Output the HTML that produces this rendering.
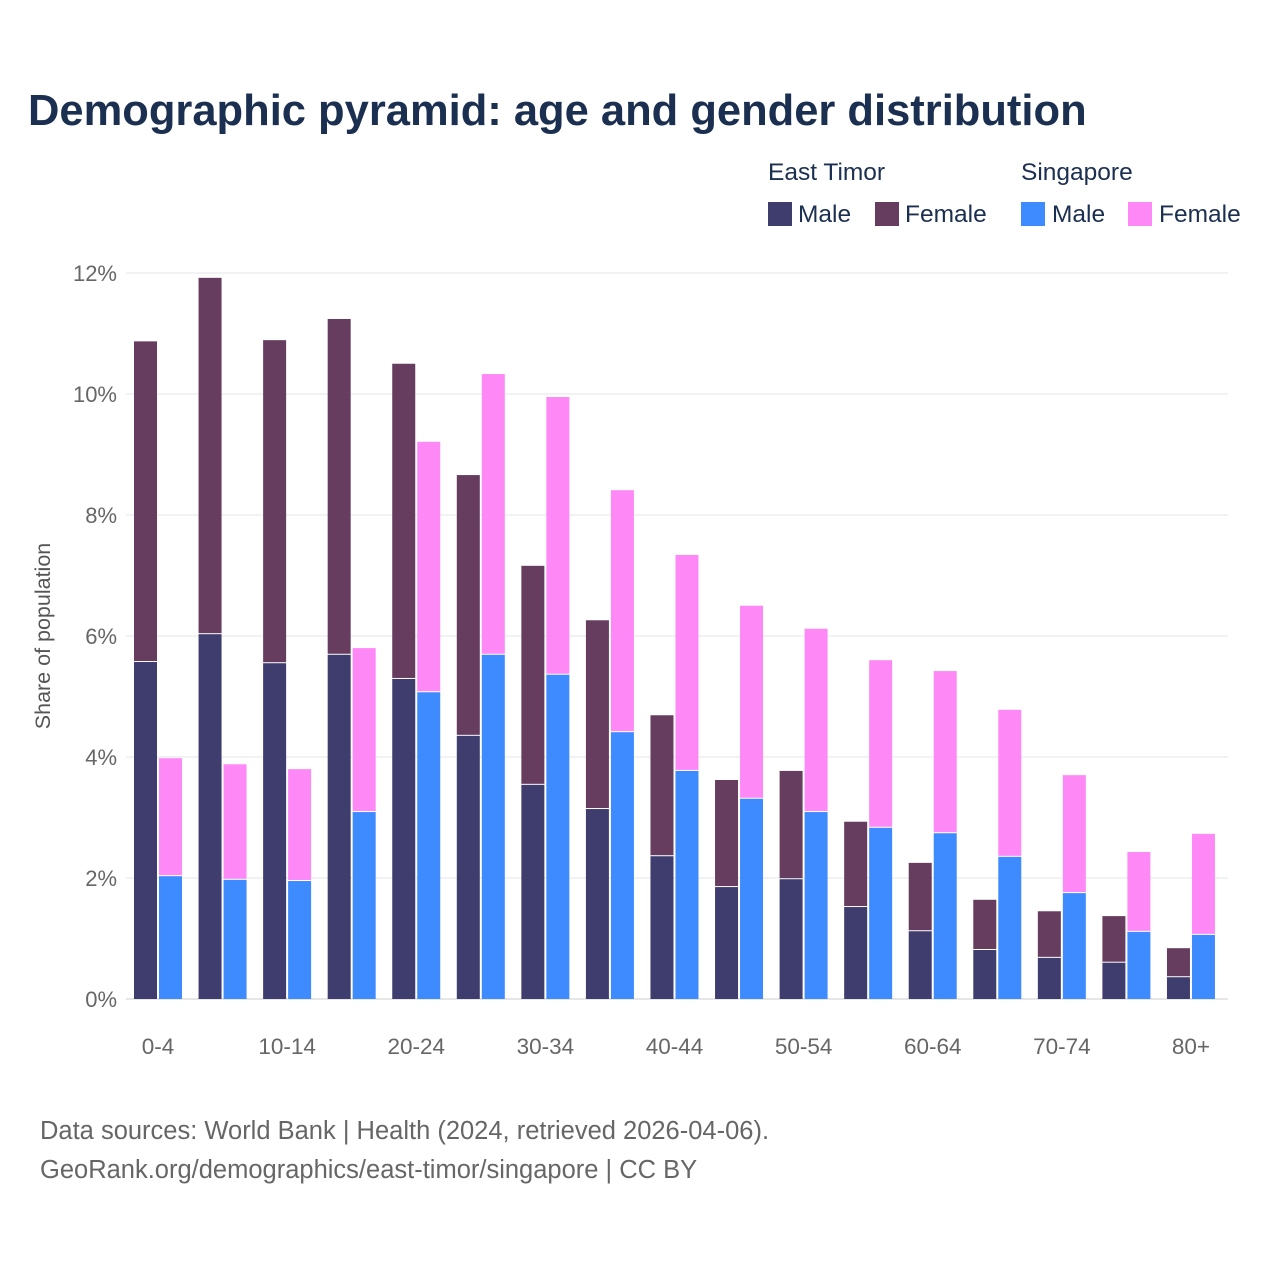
<!DOCTYPE html>
<html><head><meta charset="utf-8"><style>
body{margin:0;background:#fff;font-family:"Liberation Sans",sans-serif}
svg{display:block}
</style></head><body>
<svg id="chart" width="1280" height="1280" xmlns="http://www.w3.org/2000/svg">
<text x="28" y="125" font-size="43.5" font-weight="bold" fill="#1b2f50">Demographic pyramid: age and gender distribution</text>
<g font-size="24.5" fill="#1b2f50">
<text x="768" y="180">East Timor</text>
<text x="1021" y="180">Singapore</text>
<rect x="768" y="202" width="24" height="24" fill="#3f3d6e"/>
<text x="798" y="222">Male</text>
<rect x="875" y="202" width="24" height="24" fill="#663d5e"/>
<text x="905" y="222">Female</text>
<rect x="1021" y="202" width="24" height="24" fill="#3d8bff"/>
<text x="1052" y="222">Male</text>
<rect x="1128" y="202" width="24" height="24" fill="#ff88f7"/>
<text x="1159" y="222">Female</text>
</g>
<g id="grid"></g>
<g id="bars"></g>
<g id="xlabels"></g>
<text transform="translate(50,636) rotate(-90)" text-anchor="middle" font-size="21.5" fill="#555">Share of population</text>
<text x="40" y="1139" font-size="25.5" fill="#666">Data sources: World Bank | Health (2024, retrieved 2026-04-06).</text>
<text x="40" y="1178" font-size="25.5" fill="#666">GeoRank.org/demographics/east-timor/singapore | CC BY</text>
</svg>
<script>
const categories=["0-4","5-9","10-14","15-19","20-24","25-29","30-34","35-39","40-44","45-49","50-54","55-59","60-64","65-69","70-74","75-79","80+"];
const etMale=[5.57,6.03,5.55,5.69,5.29,4.35,3.54,3.14,2.36,1.85,1.98,1.52,1.12,0.81,0.68,0.60,0.36];
const etFemale=[5.30,5.89,5.34,5.55,5.21,4.31,3.62,3.12,2.33,1.77,1.79,1.41,1.13,0.83,0.77,0.77,0.48];
const sgMale=[2.03,1.97,1.95,3.09,5.07,5.69,5.36,4.41,3.77,3.31,3.09,2.83,2.74,2.35,1.75,1.11,1.06];
const sgFemale=[1.95,1.91,1.85,2.71,4.14,4.64,4.59,4.00,3.57,3.19,3.03,2.77,2.68,2.43,1.95,1.32,1.67];
const yTicks=[0,2,4,6,8,10,12];
const NS="http://www.w3.org/2000/svg";
const y=v=>999-v*60.5;
const xc=i=>158+i*64.56;
const grid=document.getElementById('grid'),bars=document.getElementById('bars'),xl=document.getElementById('xlabels');
function mk(tag,attrs,parent){const e=document.createElementNS(NS,tag);for(const k in attrs)e.setAttribute(k,attrs[k]);parent.appendChild(e);return e;}
yTicks.forEach(t=>{
  const l=mk('line',{x1:126,x2:1228,y1:y(t),y2:y(t),stroke:t===0?'#ccc':'#e6e6ea','stroke-width':1},grid);
  
  
  const tx=mk('text',{x:117,y:y(t)+8,'text-anchor':'end','font-size':22,fill:'#666'},grid);
  tx.textContent=t+'%';
  
  
});
function stack(x,m,f,cm,cf,name){
  const r1=mk('rect',{x:x,y:y(m),width:23,height:y(0)-y(m),fill:cm},bars);
  
  
  const r2=mk('rect',{x:x,y:y(m+f),width:23,height:y(m)-y(m+f)-1,fill:cf},bars);
  
  
}
categories.forEach((c,i)=>{
  const cx=xc(i);
  stack(cx-24,etMale[i],etFemale[i],'#3f3d6e','#663d5e','bar-east-timor-'+c);
  stack(cx+1,sgMale[i],sgFemale[i],'#3d8bff','#ff88f7','bar-singapore-'+c);
  if(i%2===0){
    const t=mk('text',{x:cx,y:1054,'text-anchor':'middle','font-size':22.5,fill:'#666'},xl);
    t.textContent=c;
    
    
  }
});
</script>
</body></html>
